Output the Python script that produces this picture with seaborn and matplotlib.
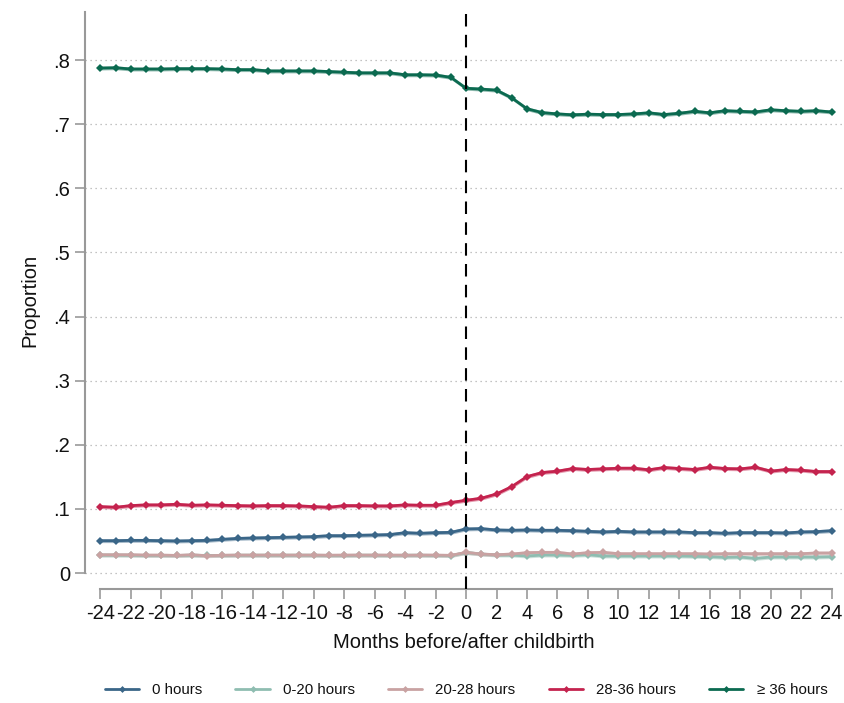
import matplotlib
matplotlib.use("Agg")
import matplotlib.pyplot as plt
from matplotlib.lines import Line2D
import numpy as np
import pandas as pd
import seaborn as sns

# data
months = list(range(-24, 25))
tick_months = list(range(-24, 25, 2))
y_ticks = [0, 0.1, 0.2, 0.3, 0.4, 0.5, 0.6, 0.7, 0.8]
y_tick_labels = ["0", ".1", ".2", ".3", ".4", ".5", ".6", ".7", ".8"]
labels = ["0 hours", "0-20 hours", "20-28 hours", "28-36 hours", "\u2265 36 hours"]

h0 = [0.0505, 0.0505, 0.051, 0.051, 0.0505, 0.050, 0.0505, 0.051, 0.0526, 0.054,
      0.0547, 0.0552, 0.0557, 0.0563, 0.0568, 0.0583, 0.0583, 0.0589, 0.0594, 0.060,
      0.063, 0.062, 0.063, 0.0635,
      0.0688, 0.0693, 0.0672, 0.0667, 0.0672, 0.0667, 0.0667, 0.0661, 0.0651, 0.0641,
      0.0651, 0.0641, 0.0641, 0.0641, 0.0641, 0.063, 0.063, 0.062, 0.063, 0.063,
      0.063, 0.0625, 0.0641, 0.0646, 0.0661]
h0_20 = [0.028, 0.028, 0.0278, 0.0275, 0.0275, 0.0275, 0.0278, 0.0275, 0.0275, 0.0278,
         0.0278, 0.0278, 0.0278, 0.0278, 0.0278, 0.0275, 0.0275, 0.0278, 0.0278, 0.0275,
         0.0278, 0.0278, 0.0275, 0.0272,
         0.032, 0.0297, 0.0281, 0.0281, 0.0266, 0.0281, 0.0281, 0.0276, 0.0286, 0.0266,
         0.0266, 0.0266, 0.0266, 0.0266, 0.0266, 0.0261, 0.0255, 0.0245, 0.025, 0.0229,
         0.025, 0.025, 0.025, 0.025, 0.0255]
h20_28 = [0.0285, 0.0285, 0.0285, 0.028, 0.028, 0.0275, 0.0285, 0.027, 0.0278, 0.028,
          0.028, 0.028, 0.028, 0.028, 0.028, 0.0278, 0.028, 0.028, 0.028, 0.028,
          0.0278, 0.028, 0.028, 0.0276,
          0.0323, 0.0297, 0.0286, 0.0297, 0.0318, 0.0323, 0.0323, 0.0297, 0.0318, 0.0323,
          0.0302, 0.0302, 0.0302, 0.0302, 0.0302, 0.0302, 0.0297, 0.0302, 0.0302, 0.0302,
          0.0302, 0.0302, 0.0302, 0.0313, 0.0313]
h28_36 = [0.1036, 0.1026, 0.1052, 0.1063, 0.1063, 0.1073, 0.1057, 0.1063, 0.1057, 0.1052,
          0.1047, 0.1052, 0.1052, 0.1047, 0.1036, 0.1026, 0.1052, 0.1052, 0.1047, 0.1047,
          0.1063, 0.1057, 0.1057, 0.110,
          0.1135, 0.1167, 0.1234, 0.1349, 0.1505, 0.1568, 0.1589, 0.163, 0.1615, 0.1625,
          0.1635, 0.1635, 0.161, 0.1646, 0.163, 0.1615, 0.165, 0.163, 0.1625, 0.165,
          0.1589, 0.1615, 0.1604, 0.1583, 0.1583]
h36 = [0.7875, 0.788, 0.786, 0.786, 0.786, 0.7865, 0.7865, 0.7865, 0.786, 0.785,
       0.785, 0.783, 0.783, 0.783, 0.783, 0.782, 0.781, 0.780, 0.780, 0.780,
       0.777, 0.777, 0.7766, 0.773,
       0.756, 0.7547, 0.753, 0.741, 0.724, 0.718, 0.716, 0.7146, 0.7156, 0.715,
       0.715, 0.716, 0.7177, 0.715, 0.717, 0.720, 0.7177, 0.721, 0.720, 0.719,
       0.7224, 0.721, 0.720, 0.721, 0.719]
ci_half = 0.003

colors = ["#3a6688", "#8fbdb1", "#c9a2a2", "#c4234e", "#0b6a50"]

series = [h0, h0_20, h20_28, h28_36, h36]
df = pd.concat([pd.DataFrame({"month": months, "prop": s, "group": lab})
                for s, lab in zip(series, labels)])

sns.set_style("white")
plt.rcParams["font.family"] = ["Liberation Sans", "DejaVu Sans"]
plt.rcParams["text.color"] = "#111111"
plt.rcParams["axes.labelcolor"] = "#111111"

fig = plt.figure(figsize=(8.44, 7.03), dpi=100)
ax = fig.add_axes([0.101, 0.162, 0.897, 0.821])

# dotted grid lines
for yt in y_ticks:
    ax.axhline(yt, color="#b0b0b0", lw=0.9, ls=(0, (1, 3)), zorder=0)

# confidence band around each line
for s, c in zip(series, colors):
    s = np.array(s)
    ax.fill_between(months, s - ci_half, s + ci_half, color=c, alpha=0.45,
                    lw=0, zorder=1)

sns.lineplot(data=df, x="month", y="prop", hue="group", hue_order=labels,
             palette=colors, marker="D", markersize=4, markeredgewidth=0,
             linewidth=2.0, ax=ax, legend=False, zorder=2)

ax.axvline(0, color="black", lw=1.5, ls=(0, (6, 4)), zorder=3)

ax.set_xlim(-25.0, 24.7)
ax.set_ylim(-0.025, 0.875)
ax.set_xticks(tick_months)
ax.set_xticklabels([str(m) for m in tick_months], fontsize=14.5)
ax.set_yticks(y_ticks)
ax.set_yticklabels(y_tick_labels, fontsize=14.5)
ax.tick_params(axis="both", direction="out", length=7, width=1.2, color="#999999",
               labelcolor="#111111", pad=4, left=True, bottom=True)

for side in ["top", "right"]:
    ax.spines[side].set_visible(False)
ax.spines["left"].set_color("#999999")
ax.spines["bottom"].set_color("#999999")
ax.spines["left"].set_linewidth(1.5)
ax.spines["bottom"].set_linewidth(1.5)
ax.spines["left"].set_bounds(0, 0.875)
ax.spines["bottom"].set_bounds(-24, 24)

ax.set_xlabel("Months before/after childbirth", fontsize=14.5, labelpad=7)
ax.set_ylabel("Proportion", fontsize=14.5, labelpad=10)

handles = [Line2D([0], [0], color=c, lw=2.0, marker="D", markersize=3.5,
                  markeredgewidth=0) for c in colors]
fig.legend(handles, labels, loc="center", bbox_to_anchor=(0.552, 0.0185), ncol=5,
           frameon=False, fontsize=10.8, handlelength=2.3, columnspacing=2.2,
           handletextpad=0.87)

fig.savefig("out.png", dpi=100)
